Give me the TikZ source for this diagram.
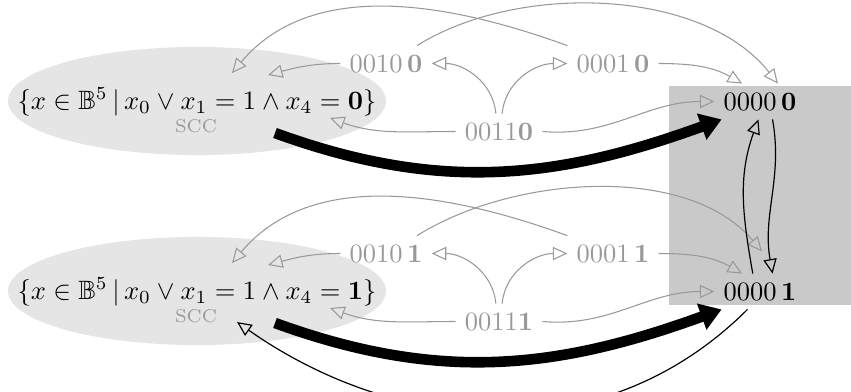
\documentclass[tikz,border=0pt]{standalone}
\usepackage{amssymb}
\usetikzlibrary{arrows.meta,shapes.geometric}
\begin{document}
\begin{tikzpicture}[x=0.3774pt,y=0.3774pt,
  state/.style={inner sep=0.3333em, text=black!40},
  goal/.style={inner sep=0.3333em, text=black},
  ghost/.style={draw=black!40, line width=0.4pt, -{Triangle[open,length=5.5pt,width=5pt]}},
  blk/.style={draw=black, line width=0.45pt, -{Triangle[open,length=5.5pt,width=5pt]}},
  big/.style={draw=black, line width=4pt, -{Triangle[length=8pt,width=10pt]}},
  sccbg/.style={ellipse, fill=black!10, minimum width=142.7pt, minimum height=40.8pt, inner sep=0pt},
  scclab/.style={font=\scriptsize, text=black!40, inner sep=0pt},
  formula/.style={inner sep=0pt, anchor=base},
]
\useasboundingbox (0,0) rectangle (851,-391);
\node[fill=black!21, minimum width=69.1pt, minimum height=83.0pt, inner sep=0pt, anchor=north west] (box) at (668,-85) {};

% SCC backgrounds
\node[sccbg] (e0) at (197,-101) {};
\node[sccbg] (e1) at (197,-291) {};

% top block nodes
\node[formula] (f0) at (197,-109.5) {$\{x\in\mathbb{B}^5\,|\,x_0\vee x_1=1\wedge x_4=\mathbf{0}\}$};
\node[scclab, anchor=base] (s0) at (196,-132) {SCC};
\node[state] (a0) at (386,-63.5) {$0010\,\mathbf{0}$};
\node[state] (b0) at (613,-63.5) {$0001\,\mathbf{0}$};
\node[state] (c0) at (499,-131.5) {$0011\mathbf{0}$};
\node[goal] (z0) at (760,-101.5) {$0000\,\mathbf{0}$};

% bottom block nodes
\node[formula] (f1) at (197,-299.5) {$\{x\in\mathbb{B}^5\,|\,x_0\vee x_1=1\wedge x_4=\mathbf{1}\}$};
\node[scclab, anchor=base] (s1) at (196,-322) {SCC};
\node[state] (a1) at (386,-253.5) {$0010\,\mathbf{1}$};
\node[state] (b1) at (613,-253.5) {$0001\,\mathbf{1}$};
\node[state] (c1) at (499,-321.5) {$0011\mathbf{1}$};
\node[goal] (z1) at (760,-291.5) {$0000\,\mathbf{1}$};

% top block edges
\draw[ghost] (b0.north west) to[out=160,in=50,looseness=0.95] ([shift={(35,28)}]e0.center);
\draw[ghost] (a0.30) to[out=32,in=128,looseness=0.85] (z0.45);
\draw[ghost] (a0.west) to[out=180,in=15] ([shift={(71,26)}]e0.center);
\draw[ghost] (c0.west) to[out=180,in=-20] ([shift={(133,-17)}]e0.center);
\draw[ghost] (c0.100) to[out=95,in=0] (a0.east);
\draw[ghost] (c0.80) to[out=85,in=180] (b0.west);
\draw[ghost] (b0.east) to[out=0,in=150] (z0.135);
\draw[ghost] (c0.east) to[out=-5,in=180] (z0.west);
\draw[big] ([shift={(78,-32)}]e0.center) to[out=-20,in=200] (z0.205);

% bottom block edges
\draw[ghost] (b1.north west) to[out=160,in=50,looseness=0.95] ([shift={(35,28)}]e1.center);
\draw[ghost] (a1.30) to[out=32,in=130,looseness=0.85] ([shift={(2,40)}]z1.center);
\draw[ghost] (a1.west) to[out=180,in=15] ([shift={(71,26)}]e1.center);
\draw[ghost] (c1.west) to[out=180,in=-20] ([shift={(133,-17)}]e1.center);
\draw[ghost] (c1.100) to[out=95,in=0] (a1.east);
\draw[ghost] (c1.80) to[out=85,in=180] (b1.west);
\draw[ghost] (b1.east) to[out=0,in=150] (z1.135);
\draw[ghost] (c1.east) to[out=-5,in=180] (z1.west);
\draw[big] ([shift={(78,-32)}]e1.center) to[out=-20,in=200] (z1.205);

% black edges
\draw[blk] (z1.112) to[out=100,in=250] (z0.265);
\draw[blk] (z0.305) to[out=-80,in=100] (z1.55);
\draw[blk] (z1.235) to[out=-135,in=-35] ([shift={(40,-31)}]e1.center);
\end{tikzpicture}
\end{document}
